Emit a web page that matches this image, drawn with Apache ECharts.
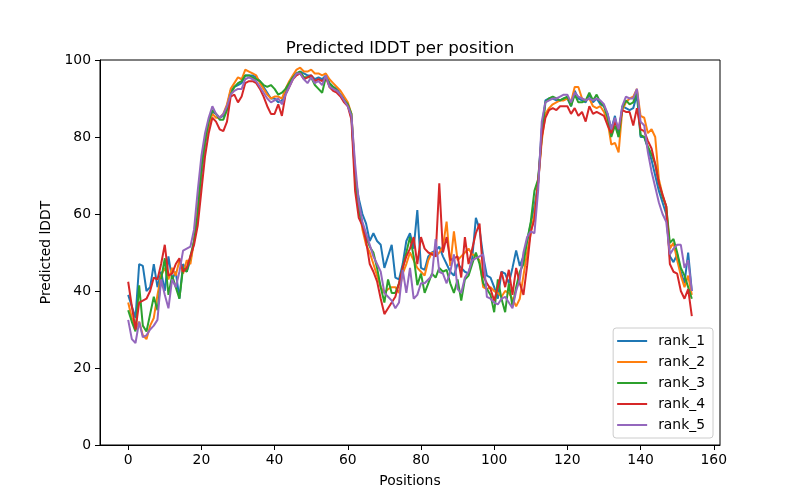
<!DOCTYPE html>
<html>
<head>
<meta charset="utf-8">
<script src="https://cdn.jsdelivr.net/npm/echarts@6/dist/echarts.min.js"></script>
<style>html,body{margin:0;padding:0;background:#fff;}#c{width:800px;height:500px;}</style>
</head>
<body>
<div id="c"></div>
<script>
const seriesNames = ['rank_1','rank_2','rank_3','rank_4','rank_5'];
const colors = ['#1f77b4','#ff7f0e','#2ca02c','#d62728','#9467bd'];
const xTicks = [0,20,40,60,80,100,120,140,160];
const yTicks = [0,20,40,60,80,100];

const rank_1 = [
39,36,33,47,46.5,40,41,47,41,45,40,49,43,45,38,47,45,48,53,60,
70,78,83,86.5,86,85,85.5,88,92,93,93.5,94,96,96,96,95.5,94.5,93,91.5,90,
90,89,89.5,92,94,95.5,96.5,97,96.5,96,96,95,95.5,95,96,94,93,92.5,91,90,
88.5,85,70,64,60,57.5,53,55,53,52,46,49,52,43.5,43,47,53,55,51,61,
46,45.5,49,50,50.5,51.5,49,47,45,44,47,46,45,44.5,48.5,59,56,49,44,43.5,
41,38,45,44.5,42,46,50.5,46.5,49,53,57.5,62,68,82,89.5,90,90,89.5,89.5,90,
90,88,92,90,89.5,89,91,89,90,88.5,88,86,82,85.5,80,88,87.5,87,87.5,91,
80,80,77,74,70,66,63,60,49,47.5,49.5,45,42,50,40];

const rank_2 = [
37,33,30,32,28.5,27.5,31,33,39,44,46,43,46,44,48,44.5,48,47,53,62,
72,79,83,86,85,85,86,88.5,92.5,94,95.5,95,97.5,97,96.5,96,94,92.5,91,90,
90.5,90.5,90,92.5,94.5,96,97.5,98,97,97,97.5,96.5,96.5,96,96.5,95,94,93,92,90.5,
89,86,71,62,56,52,50,47,44,41,39.5,40.5,41,41,39.5,44.5,47,50,48,46,
45,44,48,50,49,50,51.5,58,46.5,55.5,48,49,50,51,49.5,49,48,41,40.5,41,
40,39.5,38.5,40,39.5,38,36,38,44,50,55,60,68,79,86,87.5,88.5,89,89.5,89.5,
90,89,93,93,90,89.5,90,88,87.5,88,86.5,84,78,78.5,76,87,89,90,90.5,92.5,
85.5,85,81,82,80,69,65,62,51,52.5,48,44,41,44,39];

const rank_3 = [
35,32,29.5,41.5,31,29.5,34,38.5,35,43,48.5,39,44,41,38,46,45,49,53,60,
72,79,84,87,86,84.5,84.5,87,91,93,94,94.5,96,96,95.5,95,94.5,93.5,93,93.5,
92.5,91,91.5,92.5,94,95.5,96.5,97,95.5,95.5,95.5,93.5,92.5,91.5,95.5,94,93,92,91,89.5,
88.5,86,69,61,57,54,51.5,50,46,41,37,43,39.5,39.5,42,46,50,54,49,41.5,
44.5,39.5,42,44.5,43.5,46,45,45.5,42,39.5,43,37.5,43,44,47,50,47,42,40.5,39,
34.5,43,38,34.5,42,36,41,45,47,53,58,66,69,80,89,90,90.5,90,89.5,90,
90.5,88,91,89,89,89.5,91.5,89.5,91,89,88,85,80,83,80,87.5,89.5,88.5,89,92,
80.5,80,77.5,75.5,73,68,64.5,62,52.5,53.5,50,46,44,41,38];

const rank_4 = [
42.4,36,30,37,37.5,38,40,43.5,43,47,52,44,44.5,47,48.5,45,46,49,52,57,
66,75,81,85,84,82,81.5,84,90.5,91,89,90.5,94,94.5,94.5,94,92.5,90.5,88,86,
86,88.5,85.5,91,93,95,96,96.5,95,95.5,96,94.5,95,94.5,95.5,93,92,91.5,90.5,89,
88,84.5,66,59,57,53,47,45,42.5,38,34,35.5,37,38.5,42,46,49,51,54,47,
54,51,50,49.5,49,68,50,54,48,48.5,49,43.5,54,47,51,55,57.5,44,42,40.5,
37.5,41,45,41,45.5,39,46,42,39,46.5,55.5,58.5,68,80,85,87,87.5,87,88,88,
88,86,87.5,85.5,86.5,84,88,86,86.5,86,85.5,83,81,84,82,87,86.5,86.5,83,87.5,
82,81.5,79,77,73,68,65,62,47,45,44.5,40,38,40.5,33.5];

const rank_5 = [
32.5,27.5,26.5,32,28,28.5,30,31,32.5,43,39,35.5,43,41,45,50.5,51,51.5,56,66,
75,81,85,88,86,85,86,88,91,92,92.5,92.5,95,95.5,95,94.5,93,91.5,90,89,
89.5,90,88.5,91,93,95,96.5,96.5,95,94,95.5,94,94.5,93.5,96,93,92.5,92,91,89.5,
88,85.5,73,63,58,55,52,49,47,45,39.5,38.5,37.5,35.5,37,45.5,39.5,46,38,39,
42,42,43,44,53.5,45,44.5,42,45,49.5,40.5,39.5,43.5,45,48,48.5,49,49.5,38.5,38,
37,36.5,38,38.5,37,35.5,40,43,50,54,55.5,55,66,84,89,89.5,90,90,90.5,91,
91,89,91.5,90.5,90,89.5,90,89.5,90,89.5,88.5,86,82,85,82,88,90.5,90,90,92.5,
84,83,76,71,67,63,60,58,49.5,51,52,52,46,48,40];

const allData = [rank_1, rank_2, rank_3, rank_4, rank_5];
const FONT = 'DejaVu Sans';

const chart = echarts.init(document.getElementById('c'), null, {renderer: 'canvas'});
chart.setOption({
  animation: false,
  backgroundColor: '#ffffff',
  title: {
    text: 'Predicted lDDT per position',
    left: 'center',
    top: 35,
    textStyle: {fontFamily: FONT, fontSize: 16.7, fontWeight: 'normal', color: '#000'}
  },
  grid: {left: 100, right: 80, top: 60, bottom: 55, show: true, borderColor: '#000', borderWidth: 1, backgroundColor: 'transparent'},
  legend: {
    orient: 'vertical',
    right: 87,
    bottom: 62,
    data: seriesNames,
    icon: 'rect',
    itemWidth: 30,
    itemHeight: 2,
    itemGap: 7,
    padding: [6, 8, 6, 4],
    borderColor: '#cccccc',
    borderWidth: 1,
    borderRadius: 3,
    backgroundColor: 'rgba(255,255,255,0.8)',
    textStyle: {fontFamily: FONT, fontSize: 13.9, color: '#000', padding: [0, 0, 0, 6], lineHeight: 14}
  },
  xAxis: {
    type: 'value',
    min: -7.7,
    max: 161.7,
    name: 'Positions',
    nameLocation: 'middle',
    nameGap: 29,
    nameTextStyle: {fontFamily: FONT, fontSize: 13.9, color: '#000'},
    axisLine: {show: true, onZero: false, lineStyle: {color: '#000', width: 1}},
    axisTick: {show: true, length: 5, lineStyle: {color: '#000'}, customValues: xTicks},
    axisLabel: {fontFamily: FONT, fontSize: 13.9, color: '#000', margin: 8, customValues: xTicks},
    splitLine: {show: false}
  },
  yAxis: {
    type: 'value',
    min: 0,
    max: 100,
    interval: 20,
    name: 'Predicted lDDT',
    nameLocation: 'middle',
    nameGap: 40,
    nameTextStyle: {fontFamily: FONT, fontSize: 13.9, color: '#000'},
    axisLine: {show: true, onZero: false, lineStyle: {color: '#000', width: 1}},
    axisTick: {show: true, length: 5, lineStyle: {color: '#000'}},
    axisLabel: {fontFamily: FONT, fontSize: 13.9, color: '#000', margin: 9, formatter: v => (yTicks.indexOf(v) >= 0 ? String(v) : '')},
    splitLine: {show: false}
  },
  series: seriesNames.map((name, k) => ({
    name: name,
    type: 'line',
    symbol: 'none',
    showSymbol: false,
    color: colors[k],
    lineStyle: {width: 2, color: colors[k]},
    data: allData[k].map((v, i) => [i, v])
  }))
});
</script>
</body>
</html>
